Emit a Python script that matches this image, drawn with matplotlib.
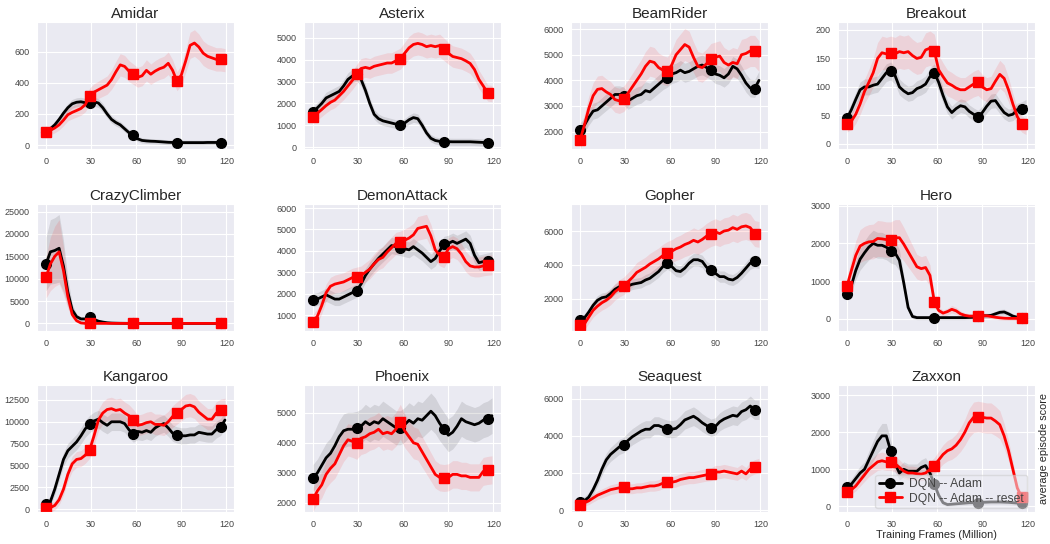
import numpy as np
import matplotlib
matplotlib.use("Agg")
import matplotlib.pyplot as plt
import seaborn as sns
from matplotlib.ticker import MultipleLocator

sns.set_style("darkgrid")
plt.rcParams['font.family'] = ['Liberation Sans', 'DejaVu Sans']

games = ["Amidar", "Asterix", "BeamRider", "Breakout",
         "CrazyClimber", "DemonAttack", "Gopher", "Hero",
         "Kangaroo", "Phoenix", "Seaquest", "Zaxxon"]

# training frames (million) at which scores were recorded
frames = np.linspace(0, 119, 42)

adam = {
    "Amidar": [85, 105, 130, 165, 205, 240, 265, 275, 278, 272, 270, 278, 270, 240, 200, 165, 145, 130, 105, 80, 65, 40, 30, 27, 25, 24, 22, 20, 18, 17, 16, 16, 16, 16, 16, 16, 16, 17, 17, 17, 16, 16],
    "Asterix": [1600, 1800, 2000, 2250, 2350, 2450, 2550, 2800, 3100, 3250, 3350, 3100, 2600, 2000, 1500, 1300, 1200, 1150, 1100, 1050, 1000, 1100, 1250, 1350, 1300, 1000, 650, 400, 300, 260, 250, 245, 240, 240, 240, 240, 240, 230, 220, 210, 200, 200],
    "BeamRider": [2050, 2250, 2550, 2800, 2850, 3000, 3150, 3300, 3450, 3450, 3400, 3200, 3300, 3400, 3450, 3600, 3550, 3700, 3850, 4000, 4100, 4250, 4300, 4400, 4300, 4350, 4450, 4550, 4600, 4500, 4400, 4250, 4200, 4100, 4250, 4550, 4450, 4200, 3900, 3700, 3680, 4000],
    "Breakout": [45, 60, 78, 95, 100, 100, 103, 105, 115, 125, 128, 120, 100, 93, 88, 90, 97, 100, 105, 118, 125, 108, 85, 65, 55, 62, 67, 65, 57, 52, 48, 55, 66, 75, 76, 65, 55, 50, 52, 60, 62, 66],
    "CrazyClimber": [13300, 16000, 16300, 16800, 12800, 7000, 3000, 1500, 1000, 1000, 1400, 900, 500, 300, 150, 80, 50, 30, 20, 10, 5, 0, 0, 0, 0, 0, 0, 0, 0, 0, 0, 0, 0, 0, 0, 0, 0, 0, 0, 0, 0, 0],
    "DemonAttack": [1700, 1750, 1850, 1950, 1850, 1750, 1750, 1850, 1950, 2050, 2150, 2450, 2850, 3150, 3400, 3650, 3850, 4050, 4250, 4200, 4150, 4100, 4050, 4200, 4050, 3900, 3700, 3500, 3650, 4000, 4300, 4350, 4450, 4350, 4450, 4550, 4350, 3800, 3450, 3500, 3550, 3600],
    "Gopher": [750, 850, 1200, 1600, 1900, 2050, 2100, 2300, 2550, 2700, 2750, 2750, 2850, 2900, 2950, 3100, 3200, 3400, 3600, 3900, 4100, 3900, 3650, 3600, 3800, 4100, 4300, 4300, 4200, 3850, 3700, 3500, 3300, 3300, 3150, 3100, 3250, 3500, 3800, 4100, 4200, 4150],
    "Hero": [650, 880, 1280, 1580, 1750, 1900, 2000, 1950, 1950, 1900, 1800, 1750, 1550, 950, 300, 60, 30, 30, 30, 30, 30, 30, 30, 30, 30, 30, 30, 30, 35, 40, 70, 80, 80, 90, 130, 170, 180, 130, 70, 40, 25, 20],
    "Kangaroo": [600, 900, 2300, 4000, 5700, 6700, 7200, 7700, 8400, 9200, 9750, 10100, 10300, 9900, 9600, 10000, 10000, 10000, 9800, 9100, 8600, 8900, 8800, 9000, 8800, 9300, 9600, 9800, 9300, 8700, 8500, 8400, 8400, 8500, 8500, 8800, 8700, 8600, 8600, 9100, 9400, 10200],
    "Phoenix": [2830, 3000, 3250, 3500, 3650, 3900, 4200, 4400, 4450, 4450, 4480, 4550, 4700, 4600, 4700, 4650, 4800, 4700, 4600, 4500, 4500, 4600, 4750, 4650, 4800, 4750, 4900, 5050, 4900, 4650, 4450, 4250, 4350, 4550, 4800, 4700, 4650, 4600, 4650, 4750, 4800, 4900],
    "Seaquest": [450, 500, 700, 1100, 1600, 2200, 2700, 3000, 3200, 3400, 3500, 3750, 3950, 4100, 4250, 4350, 4350, 4550, 4550, 4450, 4380, 4350, 4400, 4600, 4850, 4950, 5050, 4900, 4700, 4550, 4430, 4500, 4750, 4900, 5000, 5100, 5050, 5300, 5400, 5600, 5400, 5400],
    "Zaxxon": [530, 600, 750, 900, 1000, 1250, 1500, 1750, 1900, 1900, 1500, 1150, 900, 1000, 950, 950, 950, 1050, 1100, 900, 600, 300, 100, 50, 60, 70, 80, 90, 100, 100, 100, 110, 115, 120, 120, 120, 115, 110, 100, 90, 80, 80],
}

adam_reset = {
    "Amidar": [85, 95, 110, 130, 160, 195, 210, 222, 235, 260, 315, 340, 355, 370, 385, 420, 470, 515, 505, 475, 455, 435, 445, 480, 455, 475, 490, 500, 525, 480, 410, 450, 540, 640, 655, 630, 590, 570, 560, 550, 550, 545],
    "Asterix": [1390, 1550, 1720, 1900, 2050, 2150, 2350, 2550, 2800, 3050, 3350, 3600, 3650, 3600, 3700, 3750, 3800, 3850, 3850, 3950, 4050, 4300, 4550, 4700, 4750, 4700, 4600, 4650, 4600, 4650, 4480, 4300, 4150, 4100, 4050, 3950, 3830, 3550, 3100, 2800, 2480, 2450],
    "BeamRider": [1670, 2250, 2900, 3400, 3650, 3680, 3550, 3450, 3250, 3200, 3280, 3500, 3750, 4000, 4250, 4550, 4750, 4700, 4500, 4400, 4350, 4600, 5000, 5200, 5400, 5300, 4900, 4550, 4500, 4650, 4850, 4900, 4950, 4700, 4600, 4700, 4650, 5000, 5050, 5150, 5150, 4950],
    "Breakout": [35, 40, 52, 70, 92, 108, 125, 150, 160, 158, 160, 158, 162, 160, 162, 155, 150, 152, 165, 168, 163, 130, 118, 107, 103, 98, 95, 95, 100, 105, 108, 100, 95, 97, 110, 122, 115, 95, 70, 48, 35, 30],
    "CrazyClimber": [10300, 13300, 15000, 16000, 11800, 6000, 2000, 600, 100, 0, 0, 0, 0, 0, 0, 0, 0, 0, 0, 0, 0, 0, 0, 0, 0, 0, 0, 0, 0, 0, 0, 0, 0, 0, 0, 0, 0, 0, 0, 0, 0, 0],
    "DemonAttack": [700, 950, 1450, 2050, 2350, 2450, 2500, 2550, 2650, 2750, 2800, 2850, 3000, 3150, 3400, 3600, 3700, 3950, 4150, 4350, 4400, 4500, 4600, 4750, 5050, 5100, 5150, 4700, 4050, 3800, 3700, 4100, 4200, 4100, 3850, 3500, 3300, 3250, 3250, 3300, 3330, 3350],
    "Gopher": [450, 500, 900, 1300, 1550, 1750, 1900, 2100, 2400, 2600, 2750, 3000, 3250, 3550, 3700, 3850, 4050, 4200, 4350, 4550, 4700, 4800, 4950, 5050, 5200, 5300, 5450, 5350, 5500, 5700, 5850, 5950, 5850, 6000, 6050, 6200, 6100, 6250, 6300, 6200, 5850, 5800],
    "Hero": [870, 1280, 1680, 1930, 2000, 2040, 2050, 2130, 2120, 2100, 2100, 2150, 2150, 1980, 1780, 1580, 1380, 1330, 1360, 1150, 450, 220, 150, 190, 250, 210, 130, 90, 70, 70, 80, 80, 80, 60, 40, 25, 15, 10, 10, 10, 20, 20],
    "Kangaroo": [200, 200, 450, 1100, 2300, 4000, 5200, 5700, 5800, 6200, 6800, 8400, 10200, 11000, 11400, 11500, 11300, 11400, 11000, 10700, 10200, 9600, 9700, 9900, 10000, 9700, 9700, 9600, 10000, 10600, 11000, 11400, 11800, 11900, 11700, 11100, 10700, 10300, 10300, 11000, 11300, 11400],
    "Phoenix": [2120, 2400, 2600, 2950, 3150, 3300, 3600, 3900, 4100, 4050, 3980, 4150, 4200, 4300, 4350, 4450, 4300, 4350, 4300, 4450, 4700, 4400, 4200, 4000, 3950, 3700, 3450, 3200, 2950, 2850, 2830, 2850, 2950, 2950, 2900, 2900, 2850, 2850, 2850, 3050, 3080, 3100],
    "Seaquest": [300, 400, 500, 650, 800, 900, 1000, 1100, 1150, 1200, 1230, 1150, 1150, 1200, 1200, 1250, 1300, 1300, 1350, 1450, 1500, 1500, 1550, 1650, 1700, 1750, 1750, 1800, 1850, 1900, 1930, 2050, 2050, 2100, 2050, 2000, 1950, 2100, 1950, 2200, 2330, 2400],
    "Zaxxon": [400, 450, 550, 700, 850, 1000, 1100, 1200, 1230, 1200, 1200, 1150, 1050, 950, 900, 900, 880, 870, 900, 1000, 1100, 1250, 1400, 1500, 1550, 1650, 1800, 2000, 2250, 2400, 2420, 2400, 2380, 2380, 2300, 2200, 1900, 1500, 1000, 500, 250, 150],
}

# spread of the shaded band: (absolute, relative) for each series
band_adam = {"Amidar": (15, 0.05), "Asterix": (150, 0.05), "BeamRider": (200, 0.04),
             "Breakout": (8, 0.06), "CrazyClimber": (0, 0.45), "DemonAttack": (250, 0.03),
             "Gopher": (200, 0.04), "Hero": (50, 0.15), "Kangaroo": (500, 0.05),
             "Phoenix": (250, 0.07), "Seaquest": (200, 0.06), "Zaxxon": (50, 0.15)}
band_reset = {"Amidar": (20, 0.1), "Asterix": (200, 0.07), "BeamRider": (300, 0.06),
              "Breakout": (10, 0.12), "CrazyClimber": (0, 0.45), "DemonAttack": (300, 0.05),
              "Gopher": (300, 0.08), "Hero": (50, 0.2), "Kangaroo": (500, 0.07),
              "Phoenix": (250, 0.07), "Seaquest": (150, 0.1), "Zaxxon": (50, 0.15)}

ylims = {"Amidar": (-25, 790), "Asterix": (-90, 5730), "BeamRider": (1320, 6280),
         "Breakout": (-9, 214), "CrazyClimber": (-1700, 26700), "DemonAttack": (260, 6190),
         "Gopher": (80, 7600), "Hero": (-325, 3045), "Kangaroo": (-300, 14200),
         "Phoenix": (1700, 5920), "Seaquest": (-100, 6730), "Zaxxon": (-150, 3270)}
ysteps = {"Amidar": 200, "Asterix": 1000, "BeamRider": 1000, "Breakout": 50,
          "CrazyClimber": 5000, "DemonAttack": 1000, "Gopher": 2000, "Hero": 1000,
          "Kangaroo": 2500, "Phoenix": 1000, "Seaquest": 2000, "Zaxxon": 1000}

fig = plt.figure(figsize=(10.5, 5.44), dpi=100)
W, H = 1050, 544
lefts = [37, 304, 571, 838]
tops = [22, 204, 385]
aw, ah = 197, 127

txt = '#262626'
for k, g in enumerate(games):
    r, c = divmod(k, 4)
    ax = fig.add_axes([lefts[c] / W, (H - tops[r] - ah) / H, aw / W, ah / H])
    for data, band, col, mk, lab in [(adam, band_adam, 'black', 'o', 'DQN -- Adam'),
                                     (adam_reset, band_reset, 'red', 's', 'DQN -- Adam -- reset')]:
        y = np.array(data[g], dtype=float)
        a, rel = band[g]
        s = a + rel * np.abs(y)
        ax.fill_between(frames, y - s, y + s, color=col, alpha=0.1, lw=0)
        ax.plot(frames, y, color=col, lw=2, marker=mk, markersize=7, markevery=10, label=lab)
    ax.set_title(g, fontsize=11, color=txt, pad=3)
    ax.set_xlim(-6, 125)
    ax.set_ylim(*ylims[g])
    ax.set_xticks([0, 30, 60, 90, 120])
    ax.yaxis.set_major_locator(MultipleLocator(ysteps[g]))
    ax.tick_params(labelsize=6.5, colors='#444444', pad=2)
    if g == "Zaxxon":
        ax.set_xlabel("Training Frames (Million)", fontsize=7.8, color=txt, labelpad=1)
        ax.yaxis.set_label_position('right')
        ax.set_ylabel("average episode score", fontsize=7.8, color=txt, labelpad=3)
        leg = ax.legend(loc='lower center', bbox_to_anchor=(0.575, 0.03), fontsize=8.7,
                        frameon=True, framealpha=0.55, facecolor='#EAEAF2',
                        edgecolor='#CCCCCC', labelspacing=0.2, handlelength=1.9,
                        borderpad=0.3, handletextpad=0.6, borderaxespad=0.0)
        for t in leg.get_texts():
            t.set_color('#444444')

fig.savefig("out.png", dpi=100)
